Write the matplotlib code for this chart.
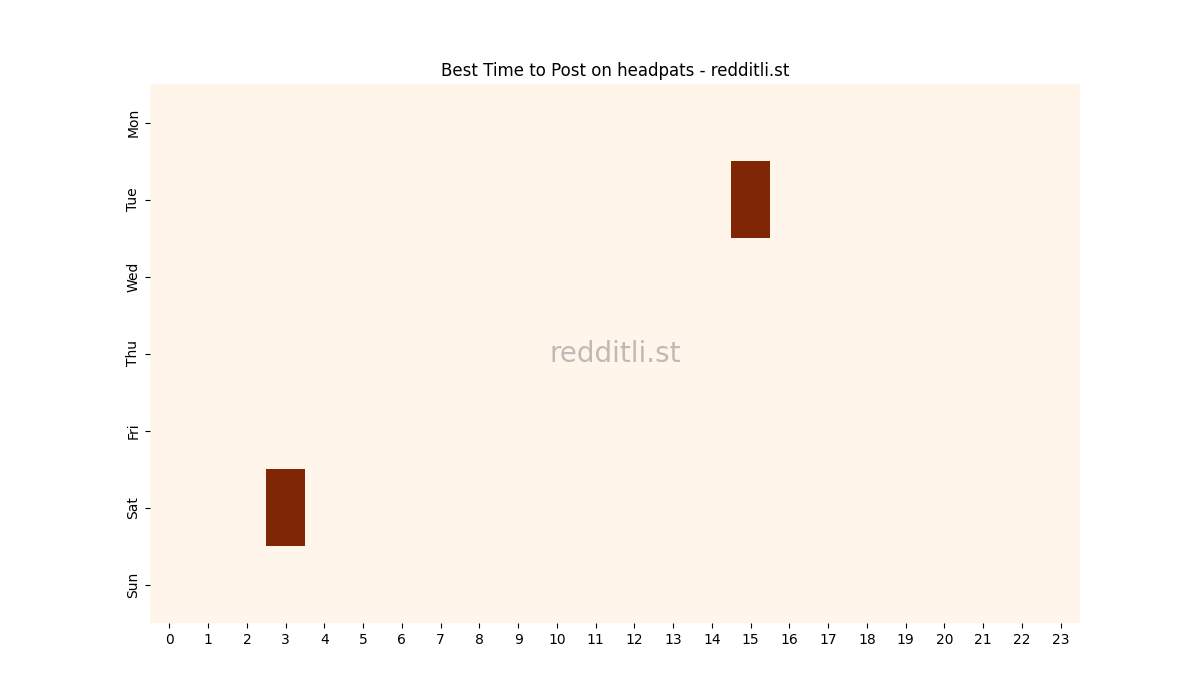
import numpy as np
import pandas as pd
import seaborn as sns
import matplotlib
matplotlib.use("Agg")
import matplotlib.pyplot as plt

days = ["Mon", "Tue", "Wed", "Thu", "Fri", "Sat", "Sun"]
hours = list(range(24))

# post counts per (day, hour); only two slots had posts
counts = np.zeros((7, 24))
counts[1, 15] = 1
counts[5, 3] = 1

df = pd.DataFrame(counts, index=days, columns=hours)

fig, ax = plt.subplots(figsize=(12, 7), dpi=100)
sns.heatmap(df, cmap="Oranges", cbar=False, ax=ax)
ax.set_title("Best Time to Post on headpats - redditli.st")
ax.set_yticklabels(days, rotation=90, va="center")
ax.set_xticklabels(hours, rotation=0)
ax.text(0.5, 0.5, "redditli.st", transform=ax.transAxes, ha="center", va="center",
        fontsize=20, color="grey", alpha=0.5)
fig.savefig("out.png")
